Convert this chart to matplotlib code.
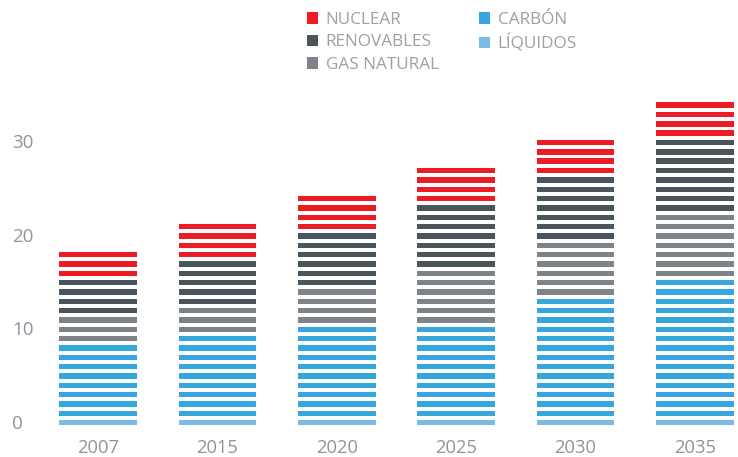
import matplotlib
matplotlib.use("Agg")
import matplotlib.pyplot as plt
from matplotlib.patches import Patch
import numpy as np

plt.rcParams['font.family'] = ['Open Sans', 'DejaVu Sans']

# counts of stripes per source, bottom to top
years = ['2007', '2015', '2020', '2025', '2030', '2035']
liquidos = [1, 1, 1, 1, 1, 1]
carbon = [8, 9, 10, 10, 13, 15]
gas_natural = [3, 3, 4, 6, 6, 7]
renovables = [4, 5, 6, 7, 7, 8]
nuclear = [3, 4, 4, 4, 4, 4]
y_ticks = [0, 10, 20, 30]

series = [
    ('LÍQUIDOS', liquidos, '#7bbbe6'),
    ('CARBÓN', carbon, '#36a6de'),
    ('GAS NATURAL', gas_natural, '#7d8388'),
    ('RENOVABLES', renovables, '#4a545b'),
    ('NUCLEAR', nuclear, '#ed1c24'),
]

W, H = 738, 457
fig = plt.figure(figsize=(W / 100, H / 100), dpi=100)
# axes from pixel y=428 up to the top, full width
ax = fig.add_axes([0, (H - 428) / H, 1, 428 / H])

x = np.arange(len(years))
unit = 9.34          # px per stripe
x_step = 119.4       # px between bars
zero_px = 421.7
ax.set_xlim(-98 / x_step, (W - 98) / x_step)
ax.set_ylim((zero_px - 428) / unit, zero_px / unit)

stripe_h = 0.58
bar_w = 0.65
level = np.zeros(len(years))
for name, vals, col in series:
    for i, n in enumerate(vals):
        for k in range(n):
            ax.bar(x[i], stripe_h, bottom=level[i] + k - stripe_h / 2 - 0.11,
                   width=bar_w, color=col, linewidth=0)
    level += np.array(vals)

for s in ax.spines.values():
    s.set_visible(False)

txt_col = '#8e959c'
ax.set_xticks(x)
ax.set_xticklabels(years)
ax.set_yticks(y_ticks)
ax.set_yticklabels([str(t) for t in y_ticks])
ax.tick_params(axis='x', length=0, pad=8, labelsize=13.2, labelcolor=txt_col)
ax.tick_params(axis='y', length=0, pad=-8.6, labelsize=13.5, labelcolor=txt_col)
for lab in ax.get_yticklabels():
    lab.set_horizontalalignment('left')

# legend: two columns, column-major
order = ['NUCLEAR', 'RENOVABLES', 'GAS NATURAL', 'CARBÓN', 'LÍQUIDOS']
cols = {name: col for name, _, col in series}
handles = [Patch(facecolor=cols[n], edgecolor='none', label=n) for n in order]
leg = fig.legend(handles=handles, ncol=2, loc='upper left',
                 bbox_to_anchor=(307 / W, 1 - 12 / H), frameon=False,
                 fontsize=12.3, handlelength=0.65, handleheight=0.65,
                 handletextpad=0.45, labelspacing=0.38, columnspacing=2.35,
                 borderaxespad=0, borderpad=0)
for t in leg.get_texts():
    t.set_color('#9ba1a7')

fig.savefig('out.png', dpi=100)
